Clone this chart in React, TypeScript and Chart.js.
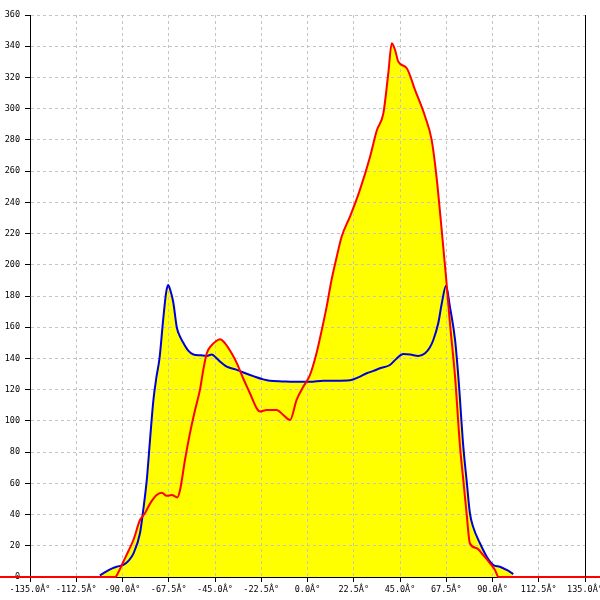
import React, { useEffect, useRef } from "react";
import { Chart, registerables } from "chart.js";

Chart.register(...registerables);

const blueX = [-101, -98, -95, -92.8, -89.6, -87, -84.7, -81.5, -79.9, -78.2, -76.6, -75, -73.5, -72, -70.2, -68.8, -67.8, -66.8, -65.3, -63.6, -62, -60.4, -58, -55.5, -52, -49, -46.6, -44.5, -42.6, -39.3, -35, -31.2, -26, -21.5, -18.3, -12, -6.9, 1.2, 7.7, 14, 20.7, 25, 28.8, 32, 35.3, 40.1, 43.4, 46.6, 50, 53.9, 57.2, 59.5, 61.2, 63.6, 65.3, 67.4, 69.3, 71.8, 73.4, 75.8, 77.4, 79, 80.6, 83.9, 87.2, 90.4, 93.6, 96.9, 100.1];
const blueY = [1, 3.5, 5.5, 6.6, 7.7, 10.5, 15, 28, 43, 62, 88, 113, 128, 140, 165, 182, 187, 184, 176, 160, 154, 150, 145, 142.5, 142, 141.6, 142.5, 140.5, 138, 134.7, 133, 131, 128.5, 126.6, 125.7, 125.3, 125, 125, 125.7, 125.7, 126, 128, 130.5, 132, 133.7, 135.8, 140, 142.8, 142.5, 141.6, 143.3, 147, 151.8, 162.5, 175, 186.5, 173, 151.8, 128, 83.5, 62, 41, 32, 21.6, 13, 7.7, 6.6, 4.5, 1.9];

const redX = [-150, -93.6, -92, -89.6, -87, -84.7, -81.5, -79.1, -76.6, -73.4, -70.9, -68.5, -66.1, -63.3, -62, -59.6, -57.2, -54.7, -52.3, -50.7, -49, -46.6, -44.5, -42.6, -40.1, -36.9, -34.4, -31.2, -28, -24.7, -23.1, -19.9, -15, -11.8, -8.5, -5.3, -2, 1.2, 4.5, 6.9, 9.3, 11.5, 14.2, 16.6, 20.7, 25.5, 30.4, 33.7, 36.9, 39.3, 41, 42.6, 44.2, 48.3, 52.3, 57.2, 60.4, 62.8, 65.3, 67.4, 69.3, 71.8, 74.2, 75.8, 77.4, 79, 82.3, 85.5, 88.8, 91.2, 93, 150];
const redY = [0, 0, 3, 9.8, 17, 23.7, 36.5, 40.8, 47, 52.5, 54, 52, 52.5, 51, 55.7, 75, 92, 107, 120, 132.6, 143.3, 148.6, 151, 152.3, 149.7, 143.3, 137, 127, 117.7, 108, 106, 107, 107, 103.8, 100.6, 113.4, 122, 129.4, 144, 158, 173, 189, 205, 218, 231, 248, 269, 286, 297, 322.6, 341.9, 337.6, 330, 325.9, 312, 295, 280, 256, 222, 192, 162.5, 128, 83.5, 62, 40.8, 21.6, 18.4, 14, 8.8, 4.5, 0, 0];

const xMin = -135;
const xMax = 135;
const xStep = 22.5;
const yMin = 0;
const yMax = 360;
const yStep = 20;

const FONT = { family: "'DejaVu Sans Mono', monospace", size: 8.5 };

export default function App() {
  const ref = useRef<HTMLCanvasElement | null>(null);

  useEffect(() => {
    document.body.style.margin = "0";
    const canvas = ref.current;
    if (!canvas) return;

    const rightBorder = {
      id: "rightBorder",
      afterDraw(chart: any) {
        const { ctx, chartArea } = chart;
        ctx.save();
        ctx.setLineDash([]);
        ctx.strokeStyle = "#000";
        ctx.lineWidth = 1;
        ctx.beginPath();
        const x = Math.round(chartArea.right) + 0.5;
        ctx.moveTo(x, chartArea.top);
        ctx.lineTo(x, chartArea.bottom);
        ctx.stroke();
        ctx.restore();
      },
    };

    const gridOpts: any = {
      color: "#c4c4c4",
      tickColor: "#000",
      tickLength: 5,
      tickBorderDash: [],
    };
    const borderOpts: any = { display: true, color: "#000", width: 1, dash: [3, 3] };

    const chart = new Chart(canvas, {
      type: "line",
      data: {
        datasets: [
          {
            label: "red",
            data: redX.map((x, i) => ({ x, y: redY[i] })),
            borderColor: "#ff0000",
            backgroundColor: "#ffff00",
            borderWidth: 2,
            fill: "origin",
            pointRadius: 0,
            cubicInterpolationMode: "monotone",
            clip: false as any,
            order: 1,
          },
          {
            label: "blue",
            data: blueX.map((x, i) => ({ x, y: blueY[i] })),
            borderColor: "#0000dd",
            backgroundColor: "#ffff00",
            borderWidth: 2,
            fill: "origin",
            pointRadius: 0,
            cubicInterpolationMode: "monotone",
            order: 2,
          },
        ],
      },
      options: {
        animation: false,
        responsive: false,
        devicePixelRatio: 1,
        layout: { padding: { left: 0, top: 15, right: 15, bottom: 0 } },
        plugins: {
          legend: { display: false },
          tooltip: { enabled: false },
          filler: { drawTime: "beforeDraw" } as any,
        },
        scales: {
          x: {
            type: "linear",
            min: xMin,
            max: xMax,
            ticks: {
              stepSize: xStep,
              font: FONT,
              color: "#000",
              padding: 3,
              maxRotation: 0,
              autoSkip: false,
              callback: (v: any) => Number(v).toFixed(1) + "Â°",
            },
            grid: gridOpts,
            border: borderOpts,
            afterFit: (s: any) => {
              s.height = 23;
              s.paddingLeft = 0;
              s.paddingRight = 0;
            },
          },
          y: {
            type: "linear",
            min: yMin,
            max: yMax,
            ticks: {
              stepSize: yStep,
              font: FONT,
              color: "#000",
              padding: 5,
            },
            grid: gridOpts,
            border: borderOpts,
            afterFit: (s: any) => {
              s.width = 30;
              s.paddingTop = 0;
              s.paddingBottom = 0;
            },
          },
        },
      },
      plugins: [rightBorder],
    });

    return () => chart.destroy();
  }, []);

  return (
    <div style={{ width: 600, height: 600 }}>
      <canvas ref={ref} width={600} height={600} style={{ display: "block" }} />
    </div>
  );
}
